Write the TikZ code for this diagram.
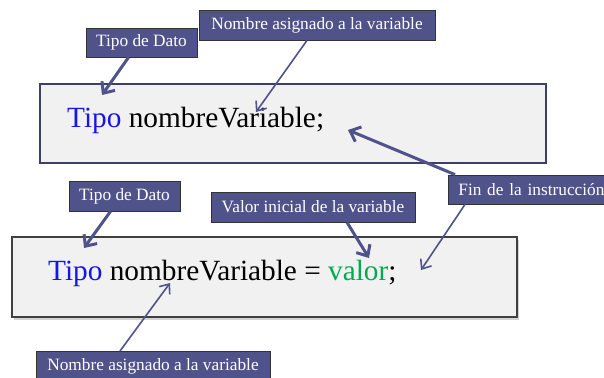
\documentclass[tikz,border=0pt]{standalone}
\usepackage{fontspec}
\setmainfont{Liberation Serif}
\usetikzlibrary{arrows.meta,shadows}

\definecolor{morado}{RGB}{80,82,138}
\definecolor{borde}{RGB}{62,62,104}
\definecolor{fondo}{RGB}{241,241,241}
\definecolor{azul}{RGB}{20,20,235}
\definecolor{verde}{RGB}{0,170,80}

\begin{document}
\begin{tikzpicture}[x=1pt,y=-1pt,
    etiqueta/.style={draw=black!80,fill=morado,text=white,line width=0.8pt,
      inner sep=0pt,minimum height=30pt,font=\fontsize{17.3}{19}\selectfont},
    caja/.style={fill=fondo,line width=1.3pt,inner sep=0pt},
    flecha/.style={draw=morado,line width=3pt,-{Straight Barb[length=9pt,width=16pt]}},
    flechita/.style={draw=morado,line width=1.6pt,-{Straight Barb[length=8pt,width=13pt]}}]
  \clip (0,0) rectangle (604,377);

  % declaracion simple
  \node[caja,draw=borde,minimum width=506pt,minimum height=79pt] (cajaA) at (293,123.5) {};
  \node[anchor=base west,inner sep=0pt,font=\fontsize{29.3}{32}\selectfont] (codA) at (67,127)
    {\textcolor{azul}{Tipo} nombreVariable;};

  % declaracion con valor inicial
  \node[caja,draw=black!75,minimum width=505pt,minimum height=80pt,
    drop shadow={shadow xshift=2pt,shadow yshift=-3pt,opacity=0.35}] (cajaB) at (264.5,277) {};
  \node[anchor=base west,inner sep=0pt,font=\fontsize{29.3}{32}\selectfont] (codB) at (48,280)
    {\textcolor{azul}{Tipo} nombreVariable = \textcolor{verde}{valor};};

  % etiquetas
  \node[etiqueta,minimum width=111pt,minimum height=29pt] (tipoA) at (141.5,42.5) {Tipo de Dato};
  \node[etiqueta,minimum width=236pt] (nombreA) at (317,25) {Nombre asignado a la variable};
  \node[etiqueta,anchor=west,minimum width=190pt,minimum height=29pt,
    text width=170pt,align=left] (fin) at (448,189.5) {Fin de la instrucción};
  \node[etiqueta,minimum width=111pt] (tipoB) at (124.5,196) {Tipo de Dato};
  \node[etiqueta,minimum width=204pt] (valor) at (313,207) {Valor inicial de la variable};
  \node[etiqueta,anchor=north,minimum width=234pt] (nombreB) at (153,351) {Nombre asignado a la variable};

  % puntas
  \coordinate (pTipoA) at (102,95);
  \coordinate (pNombreA) at (256,112);
  \coordinate (pFinA) at (348,130);
  \coordinate (pFinB) at (421,270);
  \coordinate (pTipoB) at (84,248);
  \coordinate (pValor) at (369,258);
  \coordinate (pNombreB) at (170,283);

  \draw[flecha] ([xshift=-13pt]tipoA.south) -- (pTipoA);
  \draw[flechita] ([xshift=-10pt]nombreA.south) -- (pNombreA);
  \draw[flecha] ([xshift=7pt]fin.north west) -- (pFinA);
  \draw[flechita] ([xshift=17pt]fin.south west) -- (pFinB);
  \draw[flecha] ([xshift=-14pt]tipoB.south) -- (pTipoB);
  \draw[flecha] ([xshift=34pt]valor.south) -- (pValor);
  \draw[flechita] ([xshift=-33pt]nombreB.north) -- (pNombreB);
\end{tikzpicture}
\end{document}
